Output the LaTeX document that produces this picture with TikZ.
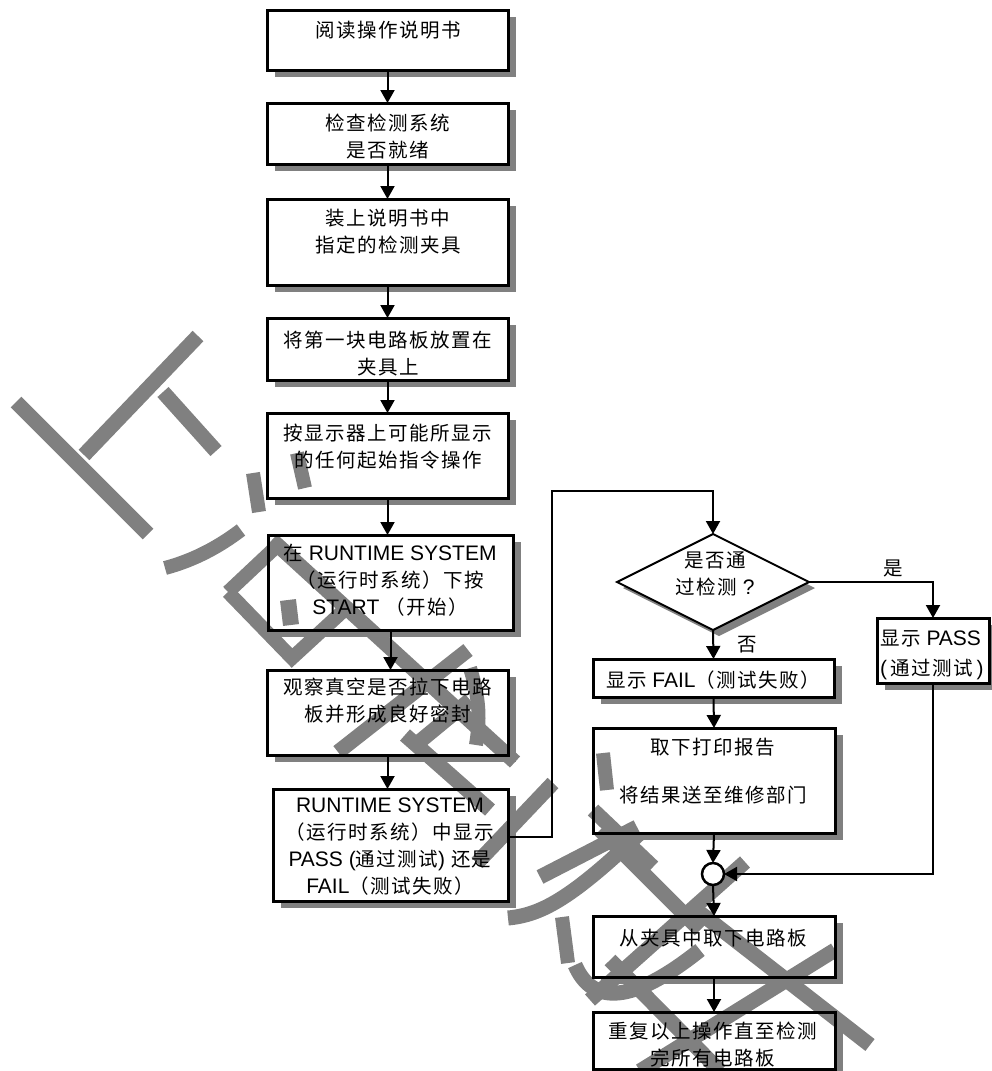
\documentclass[tikz,border=0pt]{standalone}
\usepackage{fontspec}
\setmainfont{Liberation Sans}
\newfontfamily\cjkf[LetterSpace=7.5]{Noto Sans CJK SC}
\usetikzlibrary{arrows.meta,calc,shapes.geometric}
\definecolor{wmgray}{RGB}{128,128,128}
\definecolor{shgray}{RGB}{128,128,128}
\newcommand\zh[1]{{\cjkf\fontsize{19.5}{27}\selectfont #1}}
\begin{document}
\begin{tikzpicture}[x=1pt,y=-1pt,
  box/.style={rectangle,inner sep=0pt,outer sep=0pt,anchor=north west},
  frame/.style={draw=black,line width=3pt},
  txt/.style={align=center,inner sep=0pt,font=\fontsize{21}{27}\selectfont},
  arr/.style={draw=black,line width=2pt,-{Triangle[width=14pt,length=13pt]}},
  wm/.style={draw=wmgray,line width=15pt,line cap=butt,line join=miter}]
\useasboundingbox (0,0) rectangle (991,1071);
% ---- boxes (geometry) ----
\node[box,minimum width=241pt,minimum height=60pt] (b1) at (267,10) {};
\node[box,minimum width=241pt,minimum height=61pt] (b2) at (267,103) {};
\node[box,minimum width=241pt,minimum height=86pt] (b3) at (267,199) {};
\node[box,minimum width=241pt,minimum height=62pt] (b4) at (267,318) {};
\node[box,minimum width=241pt,minimum height=85pt] (b5) at (267,413) {};
\node[box,minimum width=245pt,minimum height=95pt] (b6) at (268,535) {};
\node[box,minimum width=241pt,minimum height=85pt] (b7) at (267,670) {};
\node[box,minimum width=235pt,minimum height=112pt] (b8) at (273,789) {};
\node[diamond,inner sep=0pt,outer sep=0pt,minimum width=192pt,minimum height=96pt] (dia) at (713,582) {};
\node[box,minimum width=112pt,minimum height=65pt] (bpass) at (877,618) {};
\node[box,minimum width=241pt,minimum height=38pt] (bfail) at (593,659) {};
\node[box,minimum width=242pt,minimum height=105pt] (brep) at (593,728) {};
\node[circle,inner sep=0pt,outer sep=0pt,minimum size=22pt] (circ) at (713,874) {};
\node[box,minimum width=242pt,minimum height=61pt] (brm) at (593,916) {};
\node[box,minimum width=242pt,minimum height=57pt] (bfin) at (593,1012) {};
% ---- shadows ----
\foreach \n in {b1,b2,b3,b4,b5,b6,b7,b8,bpass,bfail,brep,brm,bfin}{
  \fill[shgray] ($(\n.north west)+(8,7)$) rectangle ($(\n.south east)+(8,7)$);
  \fill[white] (\n.north west) rectangle (\n.south east);
}
\fill[shgray] ($(dia.north)+(6,6)$) -- ($(dia.east)+(6,6)$) -- ($(dia.south)+(6,6)$) -- ($(dia.west)+(6,6)$) -- cycle;
\fill[white] (dia.north) -- (dia.east) -- (dia.south) -- (dia.west) -- cycle;
% ---- watermark ----
\draw[wm] (16,402) -- (148,534);
\draw[wm] (198,336) -- (84,455);
\draw[wm] (163,392) -- (216,451);
\draw[wm,line width=14pt] (165,568) .. controls (195,560) and (220,546) .. (241,530);
\draw[wm,line width=14pt] (253,473) -- (259,512);
\draw[wm,line width=14pt] (297,453) -- (305,488);
\draw[wm,line width=14pt] (228,592) -- (278,545);
\draw[wm,line width=14pt] (228,592) -- (292,658) -- (342,612);
\draw[wm,line width=16pt] (288,600) -- (291,625);
\draw[wm] (272,540) -- (515,762);
\draw[wm] (338,752) -- (468,650);
\draw[wm,line width=14pt] (470,668) .. controls (480,700) and (480,720) .. (476,745);
\draw[wm] (405,735) -- (490,810);
\draw[wm] (413,747) -- (470,700);
\draw[wm] (477,863) -- (553,783);
\draw[wm] (508,918) .. controls (540,915) and (570,900) .. (640,833);
\draw[wm] (540,877) -- (637,827);
\draw[wm] (593,810) -- (653,867);
\draw[wm,line width=14pt] (562,917) -- (568,963);
\draw[wm,line width=14pt] (603,753) -- (607,790);
\draw[wm] (575,965) .. controls (590,1000) and (625,1010) .. (700,950);
\draw[wm] (640,1071) -- (835,950);
\draw[wm] (590,1000) -- (745,862);
\draw[wm] (690,905) -- (870,1045);
\draw[wm] (600,830) -- (700,930);
\draw[wm] (610,960) -- (720,1071);
% ---- frames ----
\foreach \n in {b1,b2,b3,b4,b5,b6,b7,b8,bpass,bfail,brep,brm,bfin}{
  \draw[frame] (\n.north west) rectangle (\n.south east);
}
\draw[black,line width=2pt] (dia.north) -- (dia.east) -- (dia.south) -- (dia.west) -- cycle;
\draw[black,line width=2.5pt,fill=white] (circ) circle (11pt);
% ---- texts ----
\node[txt] (t1) at (388,30) {\zh{阅读操作说明书}};
\node[txt] (t2) at (388,136.5) {\zh{检查检测系统}\\\zh{是否就绪}};
\node[txt] (t3) at (388,231.5) {\zh{装上说明书中}\\\zh{指定的检测夹具}};
\node[txt] (t4) at (388,353.5) {\zh{将第一块电路板放置在}\\\zh{夹具上}};
\node[txt] (t5) at (388,447) {\zh{按显示器上可能所显示}\\\zh{的任何起始指令操作}};
\node[txt] (t6) at (390,580) {\zh{在} RUNTIME SYSTEM\\\zh{（运行时系统）下按}\\START \zh{（开始）}};
\node[txt] (t7) at (388,701) {\zh{观察真空是否拉下电路}\\\zh{板并形成良好密封}};
\node[txt] (t8) at (390,846.5) {RUNTIME SYSTEM\\\zh{（运行时系统）中显示}\\PASS (\zh{通过测试}) \zh{还是}\\FAIL\zh{（测试失败）}};
\node[txt] (td) at (715,573.5) {\zh{是否通}\\\zh{过检测} ?};
\node[txt,align=left,anchor=west,font=\fontsize{21}{30}\selectfont] (tp) at (880,655) {\zh{显示} PASS\\(\,\zh{通过测试}\,)};
\node[txt] (tf) at (713,680) {\zh{显示} FAIL\zh{（测试失败）}};
\node[txt] (tr1) at (713,747) {\zh{取下打印报告}};
\node[txt] (tr2) at (713,795) {\zh{将结果送至维修部门}};
\node[txt] (tm) at (713,938) {\zh{从夹具中取下电路板}};
\node[txt] (tn) at (713,1044.5) {\zh{重复以上操作直至检测}\\\zh{完所有电路板}};
\node[txt] (lyes) at (893,568) {\zh{是}};
\node[txt] (lno) at (747,645) {\zh{否}};
% ---- connectors ----
\draw[arr] (b1.south) -- (b1.south |- b2.north);
\draw[arr] (b2.south) -- (b2.south |- b3.north);
\draw[arr] (b3.south) -- (b3.south |- b4.north);
\draw[arr] (b4.south) -- (b4.south |- b5.north);
\draw[arr] (b5.south) -- (b5.south |- b6.north);
\draw[arr] (b6.south) -- (b6.south |- b7.north);
\draw[arr] (b7.south) -- (b7.south |- b8.north);
\coordinate (j1) at (552,491);
\draw[arr] ($(b8.east)+(0,-8)$) -| (j1) -| (dia.north);
\draw[arr] (dia.east) -| (bpass.north);
\draw[arr] (dia.south) -- (bfail.north);
\draw[arr] (bfail.south) -- (brep.north);
\draw[arr] (brep.south) -- (circ.north);
\draw[arr] (bpass.south) |- (circ.east);
\draw[arr] (circ.south) -- (brm.north);
\draw[arr] (brm.south) -- (bfin.north);
\end{tikzpicture}
\end{document}
